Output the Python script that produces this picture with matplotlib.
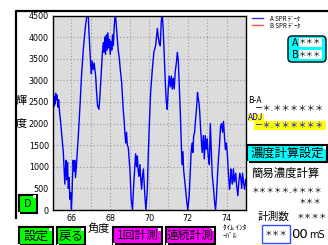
import matplotlib.pyplot as plt
from matplotlib.patches import Rectangle, FancyBboxPatch

plt.rcParams['font.family'] = ['Noto Sans CJK JP', 'DejaVu Sans']

# SPR curve (angle in deg, intensity)
angle = [
    65.06, 65.08, 65.10, 65.13, 65.16, 65.19, 65.22, 65.26, 65.30, 65.34,
    65.38, 65.45, 65.52, 65.58, 65.62, 65.66, 65.70, 65.73, 65.76, 65.80,
    65.84, 65.88, 65.92, 65.96, 66.00, 66.03, 66.06, 66.09, 66.13, 66.17,
    66.21, 66.26, 66.31, 66.36, 66.44, 66.52, 66.61, 66.70, 66.78, 66.84,
    66.87, 66.90, 66.95, 67.00, 67.03, 67.07, 67.12, 67.17, 67.25, 67.30,
    67.35, 67.42, 67.47, 67.53, 67.59, 67.64, 67.68, 67.72, 67.76, 67.80,
    67.84, 67.88, 67.92, 67.96, 68.00, 68.04, 68.08, 68.12, 68.16, 68.20,
    68.24, 68.27, 68.30, 68.36, 68.41, 68.47, 68.53, 68.59, 68.67, 68.72,
    68.76, 68.80, 68.84, 68.88, 68.93, 69.02, 69.08, 69.15, 69.20, 69.24,
    69.28, 69.31, 69.36, 69.40, 69.44, 69.48, 69.53, 69.58, 69.62, 69.66,
    69.71, 69.75, 69.79, 69.84, 69.91, 69.96, 70.01, 70.08, 70.17, 70.25,
    70.34, 70.43, 70.48, 70.53, 70.58, 70.63, 70.68, 70.73, 70.79, 70.84,
    70.89, 70.94, 70.99, 71.04, 71.10, 71.15, 71.20, 71.25, 71.30, 71.35,
    71.41, 71.46, 71.51, 71.56, 71.61, 71.66, 71.70, 71.75, 71.78, 71.87,
    71.95, 72.00, 72.07, 72.12, 72.17, 72.22, 72.26, 72.30, 72.35, 72.40,
    72.44, 72.47, 72.50, 72.53, 72.57, 72.61, 72.66, 72.71, 72.74, 72.80,
    72.85, 72.90, 72.95, 73.00, 73.05, 73.11, 73.16, 73.21, 73.26, 73.33,
    73.38, 73.43, 73.48, 73.53, 73.58, 73.64, 73.69, 73.74, 73.79, 73.84,
    73.89, 73.94, 73.99, 74.05, 74.10, 74.15, 74.19, 74.22, 74.26, 74.30,
    74.35, 74.40, 74.47, 74.52, 74.58, 74.63, 74.68, 74.73, 74.78, 74.82,
    74.87, 74.93, 74.98,
]
intensity = [
    2500, 2650, 2400, 2620, 2450, 2700, 2550, 2650, 2380, 2550,
    2300, 2000, 1650, 1350, 1000, 600, 1000, 1150, 700, 1100,
    500, 750, 250, 400, 20, 350, 800, 1150, 900, 1150,
    750, 1050, 1400, 1750, 2400, 3100, 3700, 4150, 4450, 4550,
    4500, 4150, 3700, 3300, 3150, 3450, 3250, 3400, 3100, 2700,
    2400, 2330, 2650, 3100, 3600, 3870, 3650, 4000, 3600, 4050,
    3700, 4100, 3750, 3950, 3600, 3900, 3700, 4050, 3800, 4200,
    4450, 4550, 4350, 4000, 3700, 3500, 3200, 2950, 2330, 2050,
    1750, 1550, 1800, 1500, 1450, 900, 250, 0, 500, 800,
    1100, 1300, 1000, 1250, 900, 780, 1050, 700, 480, 750,
    950, 600, 300, 0, 450, 1250, 1900, 2700, 3250, 3650,
    3800, 4200, 4000, 3850, 3800, 4350, 4550, 4200, 3500, 2950,
    2500, 2330, 2800, 3100, 2850, 3100, 2800, 3050, 2800, 3200,
    3400, 3650, 3450, 2900, 2300, 1600, 1050, 1350, 950, 550,
    180, 0, 330, 800, 1330, 1550, 1330, 1700, 1800, 2100,
    2300, 2480, 2720, 2600, 2500, 2300, 1870, 1550, 1330, 1720,
    1180, 1720, 1400, 1650, 1250, 1050, 2000, 1400, 800, 480,
    180, 0, 330, 800, 1180, 1550, 1950, 2000, 1800, 2050,
    1700, 1400, 1550, 1200, 800, 480, 650, 950, 750, 600,
    950, 650, 850, 550, 330, 650, 850, 750, 500, 850,
    650, 480, 700,
]

x_ticks = [66, 68, 70, 72, 74]
x_grid = [66, 67, 68, 69, 70, 71, 72, 73, 74]
y_ticks = [0, 500, 1000, 1500, 2000, 2500, 3000, 3500, 4000, 4500]
legend_labels = ["A SPR ﾃﾞｰﾀ", "B SPR ﾃﾞｰﾀ"]
legend_colors = ["#3030ff", "#ff5050"]

W, H = 328, 245
fig = plt.figure(figsize=(W / 100, H / 100), dpi=100)
fig.patch.set_facecolor("white")

# pixel canvas for the screen furniture
bg = fig.add_axes([0, 0, 1, 1])
bg.set_xlim(0, W)
bg.set_ylim(H, 0)
bg.axis("off")


def px_box(l, t, r, b):
    return [l / W, 1 - b / H, (r - l) / W, (b - t) / H]


ax = fig.add_axes(px_box(53, 15.5, 246, 210))
ax.set_facecolor("#dcdcdc")
ax.plot(angle, intensity, color="#0000ff", lw=1)
ax.set_xlim(65.05, 75.0)
ax.set_ylim(0, 4500)
ax.set_xticks(x_ticks)
ax.set_xticks(x_grid, minor=True)
ax.set_yticks(y_ticks)
ax.grid(which="both", color="#9a9a9a", ls=(0, (1, 2)), lw=0.8)
ax.tick_params(which="both", length=0, labelsize=5.8, pad=3)
for lab in ax.get_xticklabels() + ax.get_yticklabels():
    lab.set_family("DejaVu Sans")
for sp in ax.spines.values():
    sp.set_color("black")
    sp.set_linewidth(1)

# screen border
bg.plot([16, 16, 328], [218, 11.5, 11.5], color="black", lw=1.6)

# axis titles
bg.text(21, 101, "輝", ha="center", va="center", fontsize=8)
bg.text(21, 123, "度", ha="center", va="center", fontsize=8)
bg.text(99, 229, "角度", ha="center", va="center", fontsize=8)


def button(l, t, r, b, face, label, size):
    bg.add_patch(Rectangle((l, t), r - l, b - t, facecolor=face,
                           edgecolor="black", lw=1.5))
    bg.add_patch(Rectangle((r - 4, t + 0.8), 3, 3, facecolor="white",
                           edgecolor="none"))
    bg.add_patch(Rectangle((l - 0.5, b - 1.5), 2, 2, facecolor="white",
                           edgecolor="none"))
    bg.text((l + r) / 2, (t + b) / 2, label, ha="center", va="center",
            fontsize=size)


button(18.5, 194.5, 37, 213, "#00ff00", "D", 8)
button(18.5, 227, 53, 245, "#00ff00", "設定", 9)
button(57, 227, 85, 245, "#00ff00", "戻る", 9)
button(113, 227, 162, 244, "#ff00ff", "1回計測", 8.5)
button(166, 227, 215, 244, "#ff00ff", "連続計測", 8.5)
button(247, 145, 327, 162, "#00ffff", "濃度計算設定", 8.8)

# legend
for i, (lab, col) in enumerate(zip(legend_labels, legend_colors)):
    y = 18.5 + i * 7
    bg.plot([252, 263], [y, y], color=col, lw=1)
    bg.text(270, y, lab, ha="left", va="center", fontsize=4.4)

# A / B readout
bg.add_patch(FancyBboxPatch((288, 36), 38, 26, boxstyle="round,pad=0,rounding_size=4",
                            facecolor="#00ffff", edgecolor="black", lw=1))
for i, lab in enumerate(["A", "B"]):
    y = 42.5 + i * 12
    bg.text(295, y, lab, ha="center", va="center", fontsize=7.5)
    bg.add_patch(Rectangle((299, y - 4.5), 23, 9, facecolor="white",
                           edgecolor="none"))
    bg.text(310.5, y, "＊＊＊", ha="center", va="center", fontsize=5.4)

# B-A and ADJ readouts
bg.text(248, 100, "B-A", ha="left", va="center", fontsize=6)
bg.text(255, 108, "－＊.＊＊＊＊＊＊", ha="left", va="center", fontsize=6)
bg.add_patch(Rectangle((247.5, 113.5), 16, 7.5, facecolor="#ffff00",
                       edgecolor="none"))
bg.text(248, 117.5, "ADJ", ha="left", va="center", fontsize=6, color="#0000ff")
bg.add_patch(Rectangle((254, 120.5), 72, 9.5, facecolor="#ffff00",
                       edgecolor="none"))
bg.text(255, 125.5, "－＊.＊＊＊＊＊＊", ha="left", va="center", fontsize=6,
        color="#0000ff")

# concentration block
bg.text(252, 173, "簡易濃度計算", ha="left", va="center", fontsize=8.2)
bg.text(252, 191, "＊＊＊＊＊.＊＊＊＊", ha="left", va="center", fontsize=5.5)
bg.text(322, 202, "＊＊＊", ha="right", va="center", fontsize=5.5)
bg.text(258, 217, "計測数", ha="left", va="center", fontsize=7.7)
bg.text(327, 217, "＊＊＊＊", ha="right", va="center", fontsize=5.5)

# interval field
bg.text(223, 228, "ﾀｲﾑ ｲﾝﾀ", ha="left", va="center", fontsize=5.2)
bg.text(223, 236, "ｰﾊﾞﾙ", ha="left", va="center", fontsize=5.2)
bg.add_patch(Rectangle((262, 225), 28, 18, facecolor="white",
                       edgecolor="#3050ff", lw=1))
bg.text(276, 234, "＊＊＊", ha="center", va="center", fontsize=5.5)
bg.text(291, 234, "00", ha="left", va="center", fontsize=9.5,
        family="DejaVu Sans")
bg.text(309, 235, "mS", ha="left", va="center", fontsize=7,
        family="DejaVu Sans")

fig.savefig("out.png", dpi=100)
